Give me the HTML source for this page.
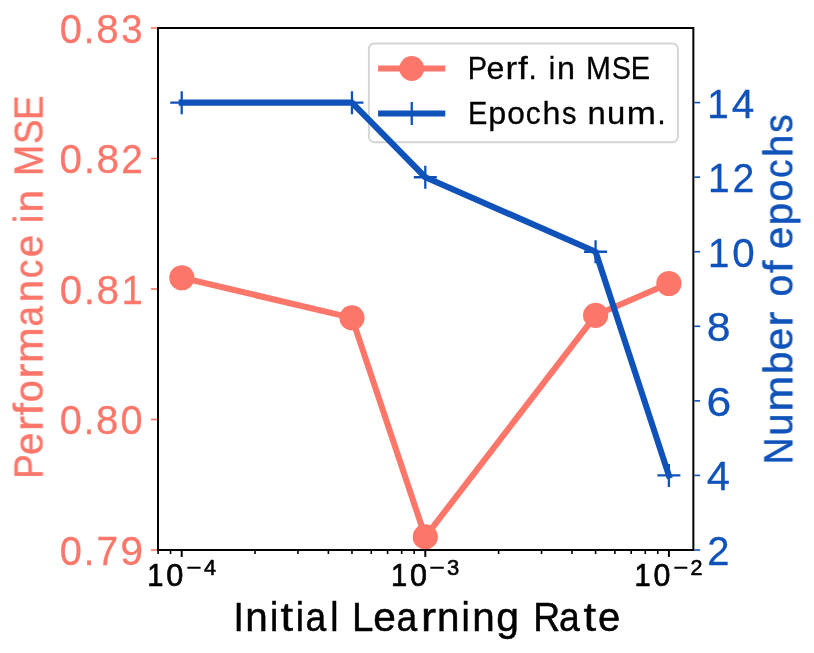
<!DOCTYPE html>
<html lang="en"><head><meta charset="utf-8"><title>Initial Learning Rate vs. Performance in MSE and Number of epochs</title>
<style>html,body{margin:0;padding:0;background:#fff}body{width:814px;height:653px;overflow:hidden}svg{display:block}text{font-family:"Liberation Sans",sans-serif;white-space:pre}</style></head><body>
<svg width="814" height="653" viewBox="0 0 814 653" role="img" aria-label="Line chart: Performance in MSE and Number of epochs versus Initial Learning Rate">
<rect width="814" height="653" fill="#fff"/>
<g id="series-mse">
<polyline points="181.85,277.75 352.00,317.85 425.30,536.90 595.60,315.30 668.90,283.50" fill="none" stroke="#fc766a" stroke-width="6.1" stroke-linejoin="round" stroke-linecap="square"/>
<circle cx="181.85" cy="277.75" r="12.6" fill="#fc766a"/>
<circle cx="352.00" cy="317.85" r="12.6" fill="#fc766a"/>
<circle cx="425.30" cy="536.90" r="12.6" fill="#fc766a"/>
<circle cx="595.60" cy="315.30" r="12.6" fill="#fc766a"/>
<circle cx="668.90" cy="283.50" r="12.6" fill="#fc766a"/>
</g>
<g id="ticks-left" stroke="#fc766a" stroke-width="1.6">
<line x1="150.9" x2="158.00" y1="550.00" y2="550.00"/>
<line x1="150.9" x2="158.00" y1="419.50" y2="419.50"/>
<line x1="150.9" x2="158.00" y1="289.00" y2="289.00"/>
<line x1="150.9" x2="158.00" y1="158.50" y2="158.50"/>
<line x1="150.9" x2="158.00" y1="28.00" y2="28.00"/>
</g>
<g id="ticks-bottom" stroke="#000">
<line x1="181.70" x2="181.70" y1="550.00" y2="556.9" stroke-width="2"/>
<line x1="425.30" x2="425.30" y1="550.00" y2="556.9" stroke-width="2"/>
<line x1="668.90" x2="668.90" y1="550.00" y2="556.9" stroke-width="2"/>
<line x1="158.09" x2="158.09" y1="550.00" y2="554" stroke-width="1.6"/>
<line x1="170.55" x2="170.55" y1="550.00" y2="554" stroke-width="1.6"/>
<line x1="255.03" x2="255.03" y1="550.00" y2="554" stroke-width="1.6"/>
<line x1="297.93" x2="297.93" y1="550.00" y2="554" stroke-width="1.6"/>
<line x1="328.36" x2="328.36" y1="550.00" y2="554" stroke-width="1.6"/>
<line x1="351.97" x2="351.97" y1="550.00" y2="554" stroke-width="1.6"/>
<line x1="371.26" x2="371.26" y1="550.00" y2="554" stroke-width="1.6"/>
<line x1="387.57" x2="387.57" y1="550.00" y2="554" stroke-width="1.6"/>
<line x1="401.69" x2="401.69" y1="550.00" y2="554" stroke-width="1.6"/>
<line x1="414.15" x2="414.15" y1="550.00" y2="554" stroke-width="1.6"/>
<line x1="498.63" x2="498.63" y1="550.00" y2="554" stroke-width="1.6"/>
<line x1="541.53" x2="541.53" y1="550.00" y2="554" stroke-width="1.6"/>
<line x1="571.96" x2="571.96" y1="550.00" y2="554" stroke-width="1.6"/>
<line x1="595.57" x2="595.57" y1="550.00" y2="554" stroke-width="1.6"/>
<line x1="614.86" x2="614.86" y1="550.00" y2="554" stroke-width="1.6"/>
<line x1="631.17" x2="631.17" y1="550.00" y2="554" stroke-width="1.6"/>
<line x1="645.29" x2="645.29" y1="550.00" y2="554" stroke-width="1.6"/>
<line x1="657.75" x2="657.75" y1="550.00" y2="554" stroke-width="1.6"/>
</g>
<g id="legend">
<rect x="368.85" y="43.45" width="309.05" height="98.85" rx="5.5" ry="5.5" fill="#fff" stroke="#d4d4d4" stroke-width="1.9"/>
<line x1="378.1" x2="445.3" y1="68.5" y2="68.5" stroke="#fc766a" stroke-width="6.1"/>
<circle cx="411.75" cy="68.5" r="12.4" fill="#fc766a"/>
<line x1="378.1" x2="445.3" y1="113.45" y2="113.45" stroke="#0f52ba" stroke-width="6.1"/>
<path d="M400.25 113.45H423.25M411.75 101.95V124.95" stroke="#0f52ba" stroke-width="2.3" fill="none"/>
</g>
<rect id="frame" x="158.00" y="28.00" width="535.35" height="522.00" fill="none" stroke="#000" stroke-width="2"/>
<g id="series-epochs">
<polyline points="181.70,102.67 351.97,102.67 425.30,177.24 595.57,251.76 668.90,475.43" fill="none" stroke="#0f52ba" stroke-width="6.1" stroke-linejoin="round" stroke-linecap="square"/>
<path d="M170.20 102.67H193.20M181.70 91.17V114.17" stroke="#0f52ba" stroke-width="2.3" fill="none"/>
<path d="M340.47 102.67H363.47M351.97 91.17V114.17" stroke="#0f52ba" stroke-width="2.3" fill="none"/>
<path d="M413.80 177.24H436.80M425.30 165.74V188.74" stroke="#0f52ba" stroke-width="2.3" fill="none"/>
<path d="M584.07 251.76H607.07M595.57 240.26V263.26" stroke="#0f52ba" stroke-width="2.3" fill="none"/>
<path d="M657.40 475.43H680.40M668.90 463.93V486.93" stroke="#0f52ba" stroke-width="2.3" fill="none"/>
</g>
<g id="ticks-right" stroke="#0f52ba" stroke-width="1.6">
<line x1="694.25" x2="700.1" y1="550.00" y2="550.00"/>
<line x1="694.25" x2="700.1" y1="475.43" y2="475.43"/>
<line x1="694.25" x2="700.1" y1="400.86" y2="400.86"/>
<line x1="694.25" x2="700.1" y1="326.29" y2="326.29"/>
<line x1="694.25" x2="700.1" y1="251.71" y2="251.71"/>
<line x1="694.25" x2="700.1" y1="177.14" y2="177.14"/>
<line x1="694.25" x2="700.1" y1="102.57" y2="102.57"/>
</g>
<g id="labels" opacity="0.999">
<text id="yl83" y="42.72" font-size="40.60" fill="#fc766a" stroke="#fc766a" stroke-width="0.30" stroke-linejoin="round"><tspan x="59.66" textLength="22.21" lengthAdjust="spacingAndGlyphs">0</tspan><tspan x="83.77" textLength="10.69" lengthAdjust="spacingAndGlyphs">.</tspan><tspan x="96.26" textLength="22.45" lengthAdjust="spacingAndGlyphs">8</tspan><tspan x="121.36" textLength="21.31" lengthAdjust="spacingAndGlyphs">3</tspan></text>
<text id="yl82" y="173.22" font-size="40.60" fill="#fc766a" stroke="#fc766a" stroke-width="0.30" stroke-linejoin="round"><tspan x="59.60" textLength="22.43" lengthAdjust="spacingAndGlyphs">0</tspan><tspan x="83.94" textLength="10.80" lengthAdjust="spacingAndGlyphs">.</tspan><tspan x="96.55" textLength="22.67" lengthAdjust="spacingAndGlyphs">8</tspan><tspan x="121.30" textLength="21.59" lengthAdjust="spacingAndGlyphs">2</tspan></text>
<text id="yl81" y="303.72" font-size="40.60" fill="#fc766a" stroke="#fc766a" stroke-width="0.30" stroke-linejoin="round"><tspan x="59.64" textLength="22.34" lengthAdjust="spacingAndGlyphs">0</tspan><tspan x="83.88" textLength="10.76" lengthAdjust="spacingAndGlyphs">.</tspan><tspan x="96.44" textLength="22.58" lengthAdjust="spacingAndGlyphs">8</tspan><tspan x="121.54" textLength="21.28" lengthAdjust="spacingAndGlyphs">1</tspan></text>
<text id="yl80" y="434.22" font-size="40.60" fill="#fc766a" stroke="#fc766a" stroke-width="0.30" stroke-linejoin="round"><tspan x="59.71" textLength="22.08" lengthAdjust="spacingAndGlyphs">0</tspan><tspan x="83.67" textLength="10.62" lengthAdjust="spacingAndGlyphs">.</tspan><tspan x="96.09" textLength="22.31" lengthAdjust="spacingAndGlyphs">8</tspan><tspan x="120.54" textLength="22.08" lengthAdjust="spacingAndGlyphs">0</tspan></text>
<text id="yl79" y="564.72" font-size="40.60" fill="#fc766a" stroke="#fc766a" stroke-width="0.30" stroke-linejoin="round"><tspan x="59.70" textLength="22.12" lengthAdjust="spacingAndGlyphs">0</tspan><tspan x="83.71" textLength="10.64" lengthAdjust="spacingAndGlyphs">.</tspan><tspan x="96.44" textLength="21.61" lengthAdjust="spacingAndGlyphs">7</tspan><tspan x="120.16" textLength="22.84" lengthAdjust="spacingAndGlyphs">9</tspan></text>
<text id="yr14" y="117.57" font-size="40.60" fill="#0f52ba" stroke="#0f52ba" stroke-width="0.30" stroke-linejoin="round"><tspan x="707.30" textLength="21.45" lengthAdjust="spacingAndGlyphs">1</tspan><tspan x="731.74" textLength="22.54" lengthAdjust="spacingAndGlyphs">4</tspan></text>
<text id="yr12" y="192.14" font-size="40.60" fill="#0f52ba" stroke="#0f52ba" stroke-width="0.30" stroke-linejoin="round"><tspan x="707.93" textLength="21.61" lengthAdjust="spacingAndGlyphs">1</tspan><tspan x="732.47" textLength="21.83" lengthAdjust="spacingAndGlyphs">2</tspan></text>
<text id="yr10" y="266.71" font-size="40.60" fill="#0f52ba" stroke="#0f52ba" stroke-width="0.30" stroke-linejoin="round"><tspan x="707.97" textLength="21.36" lengthAdjust="spacingAndGlyphs">1</tspan><tspan x="732.32" textLength="22.42" lengthAdjust="spacingAndGlyphs">0</tspan></text>
<text id="yr8" y="341.29" font-size="40.60" fill="#0f52ba" stroke="#0f52ba" stroke-width="0.30" stroke-linejoin="round"><tspan x="706.76" textLength="23.84" lengthAdjust="spacingAndGlyphs">8</tspan></text>
<text id="yr6" y="415.86" font-size="40.60" fill="#0f52ba" stroke="#0f52ba" stroke-width="0.30" stroke-linejoin="round"><tspan x="706.45" textLength="24.76" lengthAdjust="spacingAndGlyphs">6</tspan></text>
<text id="yr4" y="490.43" font-size="40.60" fill="#0f52ba" stroke="#0f52ba" stroke-width="0.30" stroke-linejoin="round"><tspan x="706.83" textLength="23.15" lengthAdjust="spacingAndGlyphs">4</tspan></text>
<text id="yr2" y="565.00" font-size="40.60" fill="#0f52ba" stroke="#0f52ba" stroke-width="0.30" stroke-linejoin="round"><tspan x="707.16" textLength="22.28" lengthAdjust="spacingAndGlyphs">2</tspan></text>
<text id="xt4" y="586.15" font-size="31.70" fill="#000" stroke="#000" stroke-width="0.70" stroke-linejoin="round"><tspan x="147.13" textLength="16.22" lengthAdjust="spacingAndGlyphs">1</tspan><tspan x="166.24" textLength="17.08" lengthAdjust="spacingAndGlyphs">0</tspan></text>
<text id="xs4" y="574.70" font-size="22.20" fill="#000" stroke="#000" stroke-width="0.60" stroke-linejoin="round"><tspan x="186.40" textLength="15.01" lengthAdjust="spacingAndGlyphs">−</tspan><tspan x="204.01" textLength="12.04" lengthAdjust="spacingAndGlyphs">4</tspan></text>
<text id="xt3" y="586.15" font-size="31.70" fill="#000" stroke="#000" stroke-width="0.70" stroke-linejoin="round"><tspan x="390.92" textLength="16.22" lengthAdjust="spacingAndGlyphs">1</tspan><tspan x="409.95" textLength="16.95" lengthAdjust="spacingAndGlyphs">0</tspan></text>
<text id="xs3" y="574.70" font-size="22.20" fill="#000" stroke="#000" stroke-width="0.60" stroke-linejoin="round"><tspan x="429.62" textLength="15.27" lengthAdjust="spacingAndGlyphs">−</tspan><tspan x="447.10" textLength="12.24" lengthAdjust="spacingAndGlyphs">3</tspan></text>
<text id="xt2" y="586.15" font-size="31.70" fill="#000" stroke="#000" stroke-width="0.70" stroke-linejoin="round"><tspan x="634.50" textLength="16.22" lengthAdjust="spacingAndGlyphs">1</tspan><tspan x="653.48" textLength="16.86" lengthAdjust="spacingAndGlyphs">0</tspan></text>
<text id="xs2" y="574.70" font-size="22.20" fill="#000" stroke="#000" stroke-width="0.60" stroke-linejoin="round"><tspan x="673.57" textLength="14.78" lengthAdjust="spacingAndGlyphs">−</tspan><tspan x="690.42" textLength="11.97" lengthAdjust="spacingAndGlyphs">2</tspan></text>
<text id="xlabel" y="631.15" font-size="40.50" fill="#000" stroke="#000" stroke-width="0.50" stroke-linejoin="round"><tspan x="233.44" textLength="10.35" lengthAdjust="spacingAndGlyphs">I</tspan><tspan x="245.37" textLength="22.49" lengthAdjust="spacingAndGlyphs">n</tspan><tspan x="270.01" textLength="8.28" lengthAdjust="spacingAndGlyphs">i</tspan><tspan x="280.64" textLength="12.60" lengthAdjust="spacingAndGlyphs">t</tspan><tspan x="295.87" textLength="8.28" lengthAdjust="spacingAndGlyphs">i</tspan><tspan x="305.43" textLength="20.72" lengthAdjust="spacingAndGlyphs">a</tspan><tspan x="330.22" textLength="8.28" lengthAdjust="spacingAndGlyphs">l</tspan> <tspan x="351.97" textLength="21.46" lengthAdjust="spacingAndGlyphs">L</tspan><tspan x="373.26" textLength="22.60" lengthAdjust="spacingAndGlyphs">e</tspan><tspan x="396.44" textLength="20.72" lengthAdjust="spacingAndGlyphs">a</tspan><tspan x="421.02" textLength="15.11" lengthAdjust="spacingAndGlyphs">r</tspan><tspan x="436.95" textLength="22.49" lengthAdjust="spacingAndGlyphs">n</tspan><tspan x="461.60" textLength="8.28" lengthAdjust="spacingAndGlyphs">i</tspan><tspan x="472.15" textLength="22.49" lengthAdjust="spacingAndGlyphs">n</tspan><tspan x="496.21" textLength="22.72" lengthAdjust="spacingAndGlyphs">g</tspan> <tspan x="533.19" textLength="26.91" lengthAdjust="spacingAndGlyphs">R</tspan><tspan x="559.09" textLength="20.72" lengthAdjust="spacingAndGlyphs">a</tspan><tspan x="583.48" textLength="12.60" lengthAdjust="spacingAndGlyphs">t</tspan><tspan x="598.00" textLength="22.22" lengthAdjust="spacingAndGlyphs">e</tspan></text>
<text id="lg1" y="78.75" font-size="31.50" fill="#000" stroke="#000" stroke-width="0.30" stroke-linejoin="round"><tspan x="467.83" textLength="19.33" lengthAdjust="spacingAndGlyphs">P</tspan><tspan x="486.56" textLength="17.88" lengthAdjust="spacingAndGlyphs">e</tspan><tspan x="505.64" textLength="11.75" lengthAdjust="spacingAndGlyphs">r</tspan><tspan x="518.06" textLength="9.80" lengthAdjust="spacingAndGlyphs">f</tspan><tspan x="528.62" textLength="8.25" lengthAdjust="spacingAndGlyphs">.</tspan> <tspan x="548.68" textLength="6.44" lengthAdjust="spacingAndGlyphs">i</tspan><tspan x="556.93" textLength="18.01" lengthAdjust="spacingAndGlyphs">n</tspan> <tspan x="585.99" textLength="24.92" lengthAdjust="spacingAndGlyphs">M</tspan><tspan x="611.75" textLength="19.33" lengthAdjust="spacingAndGlyphs">S</tspan><tspan x="630.82" textLength="19.33" lengthAdjust="spacingAndGlyphs">E</tspan></text>
<text id="lg2" y="123.85" font-size="31.50" fill="#000" stroke="#000" stroke-width="0.30" stroke-linejoin="round"><tspan x="468.07" textLength="19.33" lengthAdjust="spacingAndGlyphs">E</tspan><tspan x="488.20" textLength="18.00" lengthAdjust="spacingAndGlyphs">p</tspan><tspan x="507.15" textLength="17.60" lengthAdjust="spacingAndGlyphs">o</tspan><tspan x="525.79" textLength="14.89" lengthAdjust="spacingAndGlyphs">c</tspan><tspan x="542.60" textLength="17.94" lengthAdjust="spacingAndGlyphs">h</tspan><tspan x="562.04" textLength="14.49" lengthAdjust="spacingAndGlyphs">s</tspan> <tspan x="587.48" textLength="18.28" lengthAdjust="spacingAndGlyphs">n</tspan><tspan x="607.08" textLength="18.28" lengthAdjust="spacingAndGlyphs">u</tspan><tspan x="626.81" textLength="29.21" lengthAdjust="spacingAndGlyphs">m</tspan><tspan x="657.19" textLength="8.49" lengthAdjust="spacingAndGlyphs">.</tspan></text>
<text id="ylabel" transform="translate(42.60 0) rotate(-90)" y="0" font-size="39.90" fill="#fc766a" stroke="#fc766a" stroke-width="0.50" stroke-linejoin="round"><tspan x="-478.78" textLength="24.48" lengthAdjust="spacingAndGlyphs">P</tspan><tspan x="-455.05" textLength="22.37" lengthAdjust="spacingAndGlyphs">e</tspan><tspan x="-431.14" textLength="14.88" lengthAdjust="spacingAndGlyphs">r</tspan><tspan x="-415.49" textLength="12.42" lengthAdjust="spacingAndGlyphs">f</tspan><tspan x="-402.30" textLength="22.01" lengthAdjust="spacingAndGlyphs">o</tspan><tspan x="-378.57" textLength="14.88" lengthAdjust="spacingAndGlyphs">r</tspan><tspan x="-363.02" textLength="35.69" lengthAdjust="spacingAndGlyphs">m</tspan><tspan x="-326.52" textLength="20.42" lengthAdjust="spacingAndGlyphs">a</tspan><tspan x="-302.16" textLength="22.27" lengthAdjust="spacingAndGlyphs">n</tspan><tspan x="-278.22" textLength="18.60" lengthAdjust="spacingAndGlyphs">c</tspan><tspan x="-257.33" textLength="22.37" lengthAdjust="spacingAndGlyphs">e</tspan> <tspan x="-223.08" textLength="8.16" lengthAdjust="spacingAndGlyphs">i</tspan><tspan x="-212.59" textLength="22.51" lengthAdjust="spacingAndGlyphs">n</tspan> <tspan x="-176.07" textLength="31.16" lengthAdjust="spacingAndGlyphs">M</tspan><tspan x="-143.88" textLength="24.48" lengthAdjust="spacingAndGlyphs">S</tspan><tspan x="-119.92" textLength="24.48" lengthAdjust="spacingAndGlyphs">E</tspan></text>
<text id="y2label" transform="translate(792.35 0) rotate(-90)" y="0" font-size="39.90" fill="#0f52ba" stroke="#0f52ba" stroke-width="0.50" stroke-linejoin="round"><tspan x="-464.27" textLength="26.61" lengthAdjust="spacingAndGlyphs">N</tspan><tspan x="-435.77" textLength="22.26" lengthAdjust="spacingAndGlyphs">u</tspan><tspan x="-411.57" textLength="35.67" lengthAdjust="spacingAndGlyphs">m</tspan><tspan x="-374.11" textLength="22.50" lengthAdjust="spacingAndGlyphs">b</tspan><tspan x="-350.32" textLength="22.36" lengthAdjust="spacingAndGlyphs">e</tspan><tspan x="-326.42" textLength="14.88" lengthAdjust="spacingAndGlyphs">r</tspan> <tspan x="-296.39" textLength="21.72" lengthAdjust="spacingAndGlyphs">o</tspan><tspan x="-273.12" textLength="12.42" lengthAdjust="spacingAndGlyphs">f</tspan> <tspan x="-249.03" textLength="22.27" lengthAdjust="spacingAndGlyphs">e</tspan><tspan x="-225.15" textLength="22.41" lengthAdjust="spacingAndGlyphs">p</tspan><tspan x="-201.41" textLength="21.91" lengthAdjust="spacingAndGlyphs">o</tspan><tspan x="-178.04" textLength="18.51" lengthAdjust="spacingAndGlyphs">c</tspan><tspan x="-156.97" textLength="22.32" lengthAdjust="spacingAndGlyphs">h</tspan><tspan x="-132.78" textLength="18.35" lengthAdjust="spacingAndGlyphs">s</tspan></text>
</g>
</svg></body></html>
